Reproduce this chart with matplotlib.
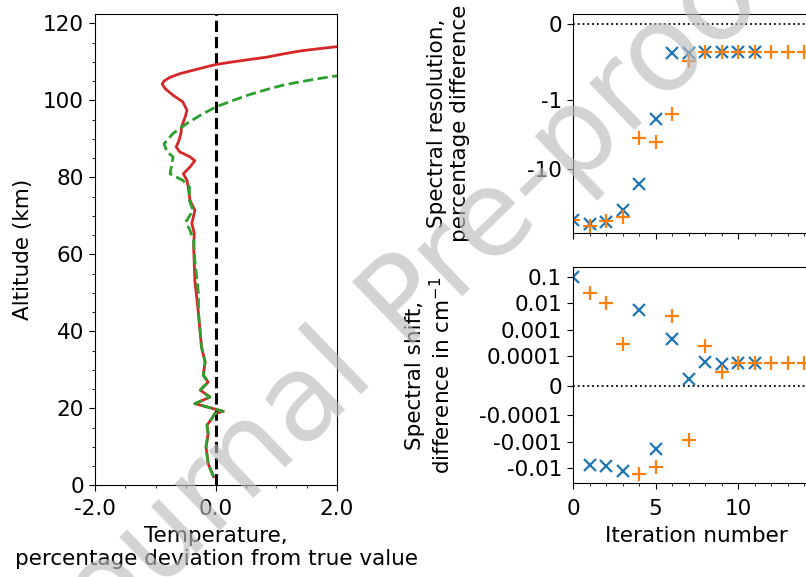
import numpy as np
import matplotlib
matplotlib.use("Agg")
import matplotlib.pyplot as plt
from matplotlib.ticker import MultipleLocator, NullLocator

plt.rcParams['font.size'] = 15.5
plt.rcParams['axes.unicode_minus'] = False
plt.rcParams['xtick.major.size'] = 4.5
plt.rcParams['ytick.major.size'] = 4.5
plt.rcParams['xtick.minor.size'] = 2.5
plt.rcParams['ytick.minor.size'] = 2.5
plt.rcParams['xtick.major.pad'] = 5.5

# temperature deviation profiles (percent) against altitude (km)
red_alt = [2.2, 5.6, 10, 13.4, 15.6, 17.3, 18.6, 19.2, 19.8, 21.2, 22.9, 24.7, 26.8, 28.6,
           32, 35.9, 44.6, 53.2, 61.9, 65.4, 68, 71.4, 74, 77.5, 79.2, 80.9, 82.7, 84.3,
           85.3, 86.6, 87.9, 89.2, 91.4, 93.1, 95.7, 97.4, 99.6, 101.3, 103, 104.2, 105.0,
           105.9, 106.9, 107.8, 108.6, 109.3, 110, 110.6, 111.2, 112.0, 112.8, 113.3, 113.8, 115]
red_dev = [-0.04, -0.13, -0.165, -0.13, -0.15, -0.07, -0.02, 0.12, -0.02, -0.35, -0.10, -0.26,
           -0.13, -0.21, -0.18, -0.24, -0.29, -0.35, -0.37, -0.36, -0.40, -0.35, -0.43, -0.46,
           -0.48, -0.54, -0.43, -0.35, -0.43, -0.60, -0.66, -0.62, -0.58, -0.57, -0.51, -0.48,
           -0.55, -0.71, -0.84, -0.89, -0.86, -0.77, -0.60, -0.38, -0.18, 0.0, 0.29, 0.56, 0.84,
           1.1, 1.39, 1.65, 1.93, 2.6]

green_alt = [2.2, 5.6, 10, 13.4, 15.6, 17.3, 18.6, 19.2, 19.8, 21.2, 22.9, 24.7, 26.8, 28.6,
             32, 35.9, 44.6, 49.8, 58.4, 63.6, 66.2, 68.4, 71.4, 74, 77.5, 79.2, 80.9, 83.5,
             85.3, 86.6, 88.7, 91.4, 94, 96.1, 98.3, 100, 101.5, 102.8, 103.9, 104.8, 105.5,
             106.2, 107.5]
green_dev = [-0.04, -0.13, -0.165, -0.13, -0.15, -0.07, -0.02, 0.12, -0.02, -0.35, -0.10, -0.26,
             -0.13, -0.21, -0.18, -0.24, -0.29, -0.29, -0.35, -0.37, -0.43, -0.50, -0.38, -0.44,
             -0.44, -0.55, -0.76, -0.73, -0.71, -0.81, -0.86, -0.71, -0.48, -0.26, 0.0, 0.29,
             0.56, 0.84, 1.1, 1.39, 1.65, 1.93, 2.6]

# spectral resolution, percentage difference per iteration
res_iter_x = list(range(12))
res_x = [-54, -62, -58, -39, -16.6, -1.84, -0.38, -0.38, -0.37, -0.37, -0.37, -0.37]
res_iter_p = list(range(15))
res_p = [-54, -66, -56, -49, -3.5, -4.0, -1.6, -0.49, -0.37, -0.37, -0.37, -0.37, -0.37,
         -0.37, -0.37]

# spectral shift, difference in cm-1 per iteration
shift_iter_x = list(range(12))
shift_x = [0.1, -0.0077, -0.008, -0.0126, 0.0055, -0.00195, 0.00045, 2.4e-5, 8.1e-5,
           7.4e-5, 7.8e-5, 7.6e-5]
shift_iter_p = list(range(15))
shift_p = [np.nan, 0.024, 0.01, 2.9e-4, -0.0167, -0.0092, 0.0033, -0.00089, 2.5e-4, 4.8e-5,
           7.8e-5, 7.8e-5, 7.8e-5, 7.8e-5, 7.8e-5]

fig = plt.figure(figsize=(8.06, 5.77), dpi=100)

# left panel: temperature
ax1 = fig.add_axes([0.118, 0.159, 0.300, 0.816])
ax1.axvline(0, color='k', ls='--', lw=2.2)
ax1.plot(red_dev, red_alt, color='#d62728', lw=2)
ax1.plot(green_dev, green_alt, color='#2ca02c', lw=2, ls='--')
ax1.set_xlim(-2, 2)
ax1.set_ylim(0, 122.3)
ax1.set_xticks([-2, 0, 2])
ax1.set_xticklabels(['-2.0', '0.0', '2.0'])
ax1.xaxis.set_minor_locator(MultipleLocator(0.5))
ax1.yaxis.set_major_locator(MultipleLocator(20))
ax1.yaxis.set_minor_locator(MultipleLocator(5))
ax1.set_ylabel('Altitude (km)', labelpad=7)
ax1.set_xlabel('Temperature,\npercentage deviation from true value', labelpad=5)

# top right: spectral resolution
ax2 = fig.add_axes([0.711, 0.596, 0.307, 0.380])
ax2.axhline(0, color='k', ls=':', lw=1.3)
ax2.plot(res_iter_x, res_x, 'x', color='#1f77b4', ms=9, mew=1.6)
ax2.plot(res_iter_p, res_p, '+', color='#ff7f0e', ms=10, mew=1.6)
ax2.set_yscale('symlog', linthresh=1, linscale=1)
ax2.set_ylim(-85, 0.13)
ax2.set_yticks([0, -1, -10])
ax2.set_yticklabels(['0', '-1', '-10'])
ax2.yaxis.set_minor_locator(NullLocator())
ax2.set_xlim(0, 15)
ax2.set_xticks([0, 5, 10])
ax2.xaxis.set_minor_locator(MultipleLocator(1))
ax2.tick_params(axis='x', labelbottom=False)
ax2.set_ylabel('Spectral resolution,\npercentage difference', labelpad=41)

# bottom right: spectral shift
ax3 = fig.add_axes([0.711, 0.163, 0.307, 0.374])
ax3.axhline(0, color='k', ls=':', lw=1.3)
ax3.plot(shift_iter_x, shift_x, 'x', color='#1f77b4', ms=9, mew=1.6)
ax3.plot(shift_iter_p, shift_p, '+', color='#ff7f0e', ms=10, mew=1.6)
ax3.set_yscale('symlog', linthresh=1e-4, linscale=1)
ax3.set_ylim(-0.036, 0.235)
ax3.set_yticks([0.1, 0.01, 0.001, 0.0001, 0, -0.0001, -0.001, -0.01])
ax3.set_yticklabels(['0.1', '0.01', '0.001', '0.0001', '0', '-0.0001', '-0.001', '-0.01'])
ax3.yaxis.set_minor_locator(NullLocator())
ax3.set_xlim(0, 15)
ax3.set_xticks([0, 5, 10])
ax3.xaxis.set_minor_locator(MultipleLocator(1))
ax3.tick_params(axis='x', pad=7)
ax3.set_xlabel('Iteration number', labelpad=5)
ax3.set_ylabel('Spectral shift,\ndifference in cm$^{-1}$', labelpad=18)

# watermark
fig.text(0.517, 0.48, 'Journal Pre-proof', rotation=44, fontsize=86, color='#bbbbbb',
         alpha=0.65, ha='center', va='center', zorder=10)

fig.savefig('out.png', dpi=100)
